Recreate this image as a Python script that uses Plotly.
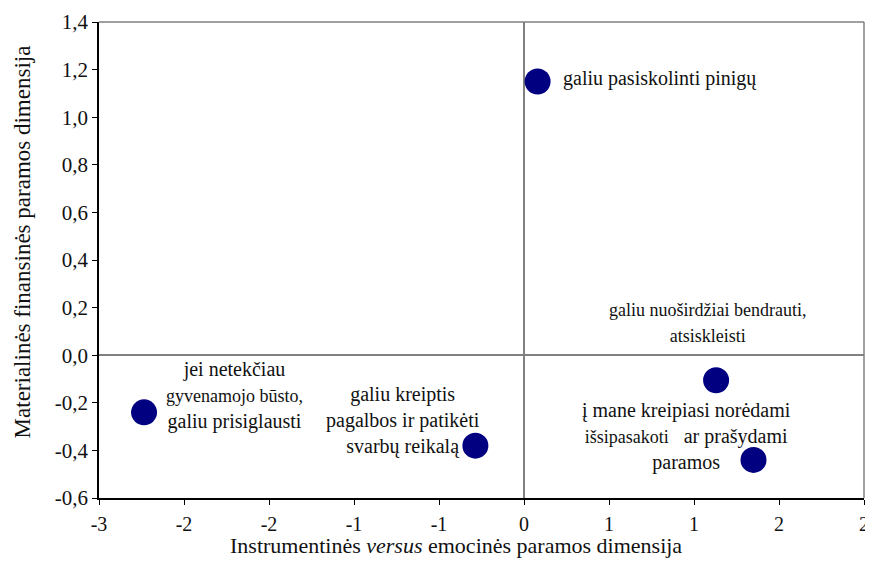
import plotly.graph_objects as go

# --- data ---
x_vals = [0.08, -2.235, -0.286, 1.13, 1.35]
y_vals = [1.15, -0.24, -0.38, -0.105, -0.44]
point_names = [
    "galiu pasiskolinti pinigų",
    "jei netekčiau gyvenamojo būsto, galiu prisiglausti",
    "galiu kreiptis pagalbos ir patikėti svarbų reikalą",
    "galiu nuoširdžiai bendrauti, atsiskleisti",
    "į mane kreipiasi norėdami išsipasakoti ar prašydami paramos",
]
x_tickvals = [-2.5, -2.0, -1.5, -1.0, -0.5, 0.0, 0.5, 1.0, 1.5, 2.0]
x_ticktext = ["-3", "-2", "-2", "-1", "-1", "0", "1", "1", "2", "2"]
y_tickvals = [-0.6, -0.4, -0.2, 0.0, 0.2, 0.4, 0.6, 0.8, 1.0, 1.2, 1.4]
y_ticktext = ["-0,6", "-0,4", "-0,2", "0,0", "0,2", "0,4", "0,6", "0,8", "1,0", "1,2", "1,4"]
x_title = "Instrumentinės <i>versus</i> emocinės paramos dimensija"
y_title = "Materialinės finansinės paramos dimensija"

# --- label layout (text, anchor position, alignment) ---
small = "<span style='font-size:18px'>%s</span>"
labels = [
    ("galiu pasiskolinti pinigų", 0.216, 1.164, "left"),
    ("jei netekčiau<br>" + small % "gyvenamojo būsto," + "<br>galiu prisiglausti", -1.704, -0.168, "center"),
    ("galiu kreiptis<br>pagalbos ir patikėti<br>svarbų reikalą", -0.712, -0.273, "center"),
    (small % "galiu nuoširdžiai bendrauti,<br>atsiskleisti", 1.08, 0.134, "center"),
    ("į mane kreipiasi norėdami<br>" + small % "išsipasakoti" + "   ar prašydami<br>paramos", 0.957, -0.34, "center"),
]

FONT = "Liberation Serif"
INK = "#111111"

fig = go.Figure()
fig.add_trace(go.Scatter(
    x=x_vals, y=y_vals, mode="markers", text=point_names,
    marker=dict(size=26, color="#000080"),
    hoverinfo="text", showlegend=False,
))

for txt, lx, ly, anchor in labels:
    fig.add_annotation(
        x=lx, y=ly, xref="x", yref="y", text=txt, showarrow=False,
        xanchor=anchor, yanchor="middle", align="center",
        font=dict(family=FONT, size=20, color=INK),
    )

# axis titles (placed as in the reference, slightly off-centre)
fig.add_annotation(x=0.467, y=-0.1, xref="paper", yref="paper", text=x_title,
                   showarrow=False, xanchor="center", yanchor="middle",
                   font=dict(family=FONT, size=22, color=INK))
fig.add_annotation(x=-0.1, y=0.538, xref="paper", yref="paper", text=y_title,
                   showarrow=False, xanchor="center", yanchor="middle", textangle=-90,
                   font=dict(family=FONT, size=23, color=INK))

# gray top and right border
fig.add_shape(type="line", xref="paper", yref="paper", x0=0, x1=1, y0=1, y1=1,
              line=dict(color="#808080", width=1.5))
fig.add_shape(type="line", xref="paper", yref="paper", x0=1, x1=1, y0=0, y1=1,
              line=dict(color="#808080", width=1.5))

fig.update_layout(
    width=857, height=552,
    margin=dict(l=91, r=1, t=14, b=62),
    paper_bgcolor="white", plot_bgcolor="white",
    font=dict(family=FONT, size=20, color=INK),
    xaxis=dict(
        range=[-2.5, 2.0], tickvals=x_tickvals, ticktext=x_ticktext,
        automargin=False, ticklabeloverflow="allow", ticklabelstandoff=2,
        showgrid=False, zeroline=True, zerolinecolor="#808080", zerolinewidth=1.5,
        showline=True, linecolor="black", linewidth=1.5,
        ticks="outside", ticklen=5, tickcolor="black",
        tickfont=dict(family=FONT, size=20, color=INK),
    ),
    yaxis=dict(
        range=[-0.6, 1.4], tickvals=y_tickvals, ticktext=y_ticktext,
        automargin=False,
        showgrid=False, zeroline=True, zerolinecolor="#808080", zerolinewidth=1.5,
        showline=True, linecolor="black", linewidth=1.5,
        ticks="outside", ticklen=5, tickcolor="black",
        tickfont=dict(family=FONT, size=21, color=INK),
    ),
)

fig.write_html("out.html")
